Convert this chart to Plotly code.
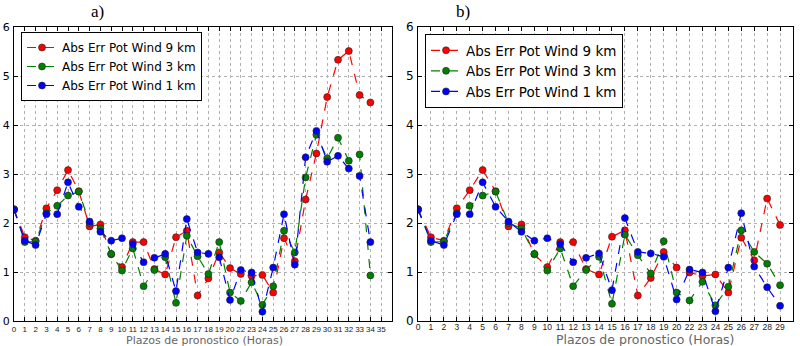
import plotly.graph_objects as go

# ---- data ----
hours_a = [str(h) for h in list(range(0, 21)) + list(range(22, 36))]
hours_b = [str(h) for h in list(range(0, 21)) + list(range(22, 30))]

err9_a = [2.28, 1.71, 1.64, 2.30, 2.67, 3.08, 2.65, 1.93, 1.97, 1.36, 1.10, 1.61, 1.61, 1.06, 0.95, 1.71, 1.84,
          0.52, 0.87, 1.40, 1.08, 0.96, 0.92, 0.94, 0.58, 1.69, 1.22, 2.48, 3.42, 4.57, 5.33, 5.51, 4.61, 4.46]
err3_a = [2.28, 1.61, 1.62, 2.20, 2.35, 2.56, 2.64, 2.00, 1.89, 1.37, 1.03, 1.48, 0.71, 1.04, 1.30, 0.37, 1.74,
          1.32, 0.96, 1.61, 0.58, 0.41, 0.79, 0.33, 0.71, 1.84, 1.40, 2.93, 3.80, 3.32, 3.74, 3.27, 3.40, 0.93]
err1_a = [2.27, 1.64, 1.55, 2.18, 2.18, 2.83, 2.33, 2.03, 1.82, 1.64, 1.69, 1.57, 1.20, 1.29, 1.37, 0.61, 2.08,
          1.40, 1.37, 1.30, 0.43, 1.04, 0.99, 0.19, 1.09, 2.18, 1.15, 3.34, 3.88, 3.25, 3.37, 3.11, 2.96, 1.61]

err9_b = [2.28, 1.71, 1.64, 2.30, 2.67, 3.08, 2.65, 1.93, 1.97, 1.36, 1.10, 1.61, 1.61, 1.06, 0.95, 1.72, 1.85,
          0.52, 0.88, 1.41, 1.09, 0.99, 0.92, 0.95, 0.58, 1.70, 1.24, 2.50, 1.96]
err3_b = [2.28, 1.61, 1.62, 2.20, 2.35, 2.56, 2.64, 2.00, 1.89, 1.37, 1.03, 1.48, 0.71, 1.04, 1.31, 0.35, 1.76,
          1.34, 0.97, 1.63, 0.58, 0.42, 0.80, 0.32, 0.70, 1.85, 1.41, 1.17, 0.73]
err1_b = [2.27, 1.64, 1.55, 2.18, 2.18, 2.83, 2.33, 2.03, 1.82, 1.64, 1.69, 1.57, 1.20, 1.29, 1.38, 0.63, 2.10,
          1.41, 1.38, 1.31, 0.44, 1.05, 0.99, 0.20, 1.09, 2.20, 1.11, 0.69, 0.31]

series_names = ["Abs Err Pot Wind 9 km", "Abs Err Pot Wind 3 km", "Abs Err Pot Wind 1 km"]
series_colors = ["#ff0000", "#008000", "#0000ff"]

fig = go.Figure()

for name, col, ya in zip(series_names, series_colors, [err9_a, err3_a, err1_a]):
    fig.add_trace(go.Scatter(
        x=hours_a[:len(ya)], y=ya, name=name, mode="lines+markers",
        line=dict(color=col, width=1.2, dash="dash"),
        marker=dict(color=col, size=7, line=dict(color="#222", width=0.6)),
        xaxis="x", yaxis="y", legend="legend"))

for name, col, yb in zip(series_names, series_colors, [err9_b, err3_b, err1_b]):
    fig.add_trace(go.Scatter(
        x=hours_b[:len(yb)], y=yb, name=name, mode="lines+markers",
        line=dict(color=col, width=1.2, dash="dash"),
        marker=dict(color=col, size=7, line=dict(color="#222", width=0.6)),
        xaxis="x2", yaxis="y2", legend="legend2"))

H = 346.0
ydom = [1 - 321 / H, 1 - 27 / H]

common_x = dict(type="category", showgrid=True, gridcolor="#b0b0b0", griddash="dot", gridwidth=1,
                showline=True, linecolor="black", linewidth=1, mirror="allticks",
                ticks="inside", ticklen=4, tickcolor="black", zeroline=False,
                tickangle=0, automargin=False,
                tickfont=dict(family="Liberation Sans", size=8, color="#222"))
common_y = dict(range=[0, 6], dtick=1, showgrid=True, gridcolor="#b0b0b0", griddash="dot", gridwidth=1,
                showline=True, linecolor="black", linewidth=1, mirror="allticks",
                ticks="inside", ticklen=4, tickcolor="black", zeroline=False, automargin=False,
                tickfont=dict(family="DejaVu Sans", size=11, color="black"))

fig.update_layout(
    width=800, height=346,
    margin=dict(l=0, r=0, t=0, b=0, autoexpand=False),
    paper_bgcolor="white", plot_bgcolor="white",
    xaxis=dict(domain=[14 / 800, 392 / 800], categoryarray=hours_a, range=[0, 35], **common_x),
    yaxis=dict(domain=ydom, anchor="x", ticklabelstandoff=1, **common_y),
    xaxis2=dict(domain=[418 / 800, 793 / 800], categoryarray=hours_b, range=[0, 29], anchor="y2",
                ticklabelstandoff=-2,
                **{**common_x, "tickfont": dict(family="Liberation Sans", size=8.5, color="#222")}),
    yaxis2=dict(domain=ydom, anchor="x2", ticklabelstandoff=1,
                **{**common_y, "tickfont": dict(family="DejaVu Sans", size=12, color="black")}),
    legend=dict(x=21 / 800, y=1 - 32 / H, xanchor="left", yanchor="top",
                bgcolor="white", bordercolor="black", borderwidth=1,
                font=dict(family="DejaVu Sans", size=12, color="black"),
                tracegroupgap=0, itemwidth=30),
    legend2=dict(x=425 / 800, y=1 - 34 / H, xanchor="left", yanchor="top",
                 bgcolor="white", bordercolor="black", borderwidth=1,
                 font=dict(family="DejaVu Sans", size=13.5, color="black"),
                 tracegroupgap=0, itemwidth=30),
    showlegend=True,
    annotations=[
        dict(text="a)", x=97 / 800, y=1 - 12 / H, xref="paper", yref="paper", showarrow=False,
             xanchor="center", yanchor="middle",
             font=dict(family="Liberation Serif", size=17, color="black")),
        dict(text="b)", x=463 / 800, y=1 - 12 / H, xref="paper", yref="paper", showarrow=False,
             xanchor="center", yanchor="middle",
             font=dict(family="Liberation Serif", size=17, color="black")),
        dict(text="Plazos de pronostico (Horas)", x=205 / 800, y=1 - 340 / H, xref="paper", yref="paper",
             showarrow=False, xanchor="center", yanchor="middle",
             font=dict(family="DejaVu Sans", size=11, color="#666")),
        dict(text="Plazos de pronostico (Horas)", x=645 / 800, y=1 - 339.5 / H, xref="paper", yref="paper",
             showarrow=False, xanchor="center", yanchor="middle",
             font=dict(family="DejaVu Sans", size=12.5, color="#666")),
    ],
)

fig.write_html("out.html", config={"displayModeBar": False},
               post_script="document.body.style.margin='0';")
